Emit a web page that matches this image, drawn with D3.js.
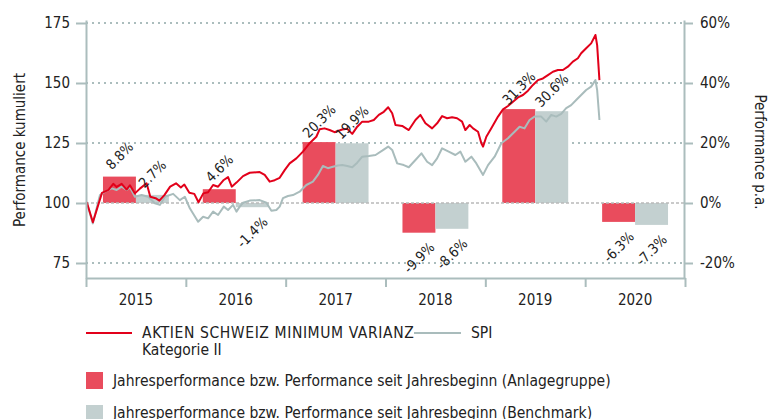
<!DOCTYPE html>
<html><head><meta charset="utf-8">
<script src="https://cdn.jsdelivr.net/npm/d3@7"></script>
<style>
body{margin:0;background:#fff;}
svg{display:block;font-family:"DejaVu Sans Condensed","DejaVu Sans",sans-serif;}
</style></head>
<body><svg id="c" width="776" height="419"></svg>
<script>
// Years and annual performance (%)
const years = ["2015","2016","2017","2018","2019","2020"];
const fundPerf = [8.8, 4.6, 20.3, -9.9, 31.3, -6.3];
const benchPerf = [2.7, -1.4, 19.9, -8.6, 30.6, -7.3];
const leftTicks = [75,100,125,150,175];
const rightTicks = [-20,0,20,40,60];

// Cumulative performance lines: time in years since start of 2015
const redT = [0.007,0.069,0.16,0.225,0.273,0.307,0.357,0.407,0.44,0.49,0.54,0.607,0.644,0.697,0.735,0.785,0.843,0.902,0.95,0.985,1.035,1.085,1.127,1.175,1.223,1.273,1.323,1.38,1.423,1.46,1.507,1.573,1.64,1.74,1.79,1.84,1.89,1.94,1.99,2.04,2.107,2.173,2.24,2.307,2.34,2.39,2.44,2.49,2.523,2.567,2.617,2.667,2.717,2.767,2.833,2.883,2.933,2.983,3.027,3.067,3.10,3.167,3.233,3.30,3.35,3.40,3.467,3.517,3.567,3.617,3.667,3.717,3.767,3.80,3.843,3.877,3.927,3.96,3.977,4.01,4.06,4.127,4.177,4.227,4.277,4.327,4.377,4.427,4.477,4.527,4.577,4.627,4.677,4.727,4.777,4.827,4.877,4.927,4.96,5.01,5.06,5.103,5.12,5.143];
const redV = [100.4,92.0,104.2,105.5,108.0,106.7,108.0,105.6,107.4,104.0,106.0,108.2,102.6,102.0,101.0,103.3,106.8,108.2,106.5,107.7,104.3,103.8,100.3,104.0,104.5,107.5,106.8,109.6,110.8,106.8,108.5,111.2,112.6,112.9,111.7,108.9,109.5,110.5,113.7,116.5,118.6,121.4,124.9,127.6,130.7,131.1,130.4,129.5,130.0,130.6,130.9,128.8,131.8,133.9,133.9,134.6,136.7,138.0,139.9,137.4,132.5,132.1,130.4,134.6,136.7,133.2,131.1,133.2,136.2,135.3,135.7,135.3,133.9,130.4,132.5,131.1,129.7,124.9,123.5,127.6,131.1,136.0,139.0,140.4,142.2,144.0,145.0,146.8,149.2,151.2,151.9,153.3,154.7,155.4,155.4,156.8,158.9,160.3,162.4,164.5,166.5,170.0,165.8,151.2];
const grayT = [0.007,0.068,0.14,0.19,0.257,0.307,0.357,0.407,0.44,0.49,0.557,0.623,0.69,0.74,0.79,0.873,0.94,0.99,1.04,1.123,1.173,1.223,1.273,1.323,1.38,1.423,1.473,1.507,1.54,1.573,1.64,1.74,1.807,1.857,1.907,1.94,1.973,2.023,2.073,2.14,2.207,2.273,2.323,2.373,2.423,2.473,2.523,2.567,2.617,2.667,2.717,2.767,2.833,2.90,2.967,3.027,3.067,3.117,3.183,3.233,3.30,3.36,3.417,3.467,3.517,3.567,3.633,3.70,3.75,3.80,3.86,3.91,3.977,4.027,4.093,4.16,4.227,4.293,4.343,4.393,4.443,4.493,4.56,4.61,4.66,4.71,4.76,4.81,4.86,4.91,4.96,5.01,5.06,5.103,5.12,5.143];
const grayV = [100.3,91.5,103.3,104.7,106.1,105.4,106.8,105.4,106.5,102.6,103.3,102.6,99.9,99.2,102.6,103.8,101.2,102.6,97.8,92.2,94.3,93.6,96.4,95.0,98.5,97.1,99.2,96.4,98.5,100.1,101.0,101.2,100.1,96.8,97.1,98.5,102.0,102.9,103.3,104.7,107.5,108.9,111.7,115.4,114.5,115.1,115.6,115.8,115.4,114.9,116.8,119.3,119.6,120.0,121.8,123.5,122.1,116.5,115.8,114.9,117.9,120.7,117.2,115.8,118.6,122.8,121.4,120.0,121.4,117.2,119.3,116.5,111.7,115.8,119.3,124.9,127.0,129.7,131.8,131.1,134.6,136.0,136.0,133.9,136.7,136.0,137.1,139.5,140.8,142.9,145.0,147.1,148.5,151.2,147.1,134.6];

const C = {axis:"#abbdbd", redLine:"#e2001a", grayLine:"#a9bcbc", redBar:"#e94c5d", grayBar:"#c3d0d0", text:"#222"};

const svg = d3.select("#c");
const x = d3.scaleLinear().domain([0,6]).range([86,685]);
const yL = d3.scaleLinear().domain([68.75,176.25]).range([278,20]);
const yR = d3.scaleLinear().domain([-25,61]).range([278,20]);
const xb = d3.scaleBand().domain(years).range([86,685]);
const xs = d3.scaleBand().domain(["f","b"]).range([0,xb.bandwidth()]).paddingOuter(0.515);

// gridlines
svg.append("g").selectAll("line").data(leftTicks.filter(d=>d!==100)).join("line")
  .attr("x1",86).attr("x2",684).attr("y1",d=>yL(d)).attr("y2",d=>yL(d))
  .attr("stroke",C.axis).attr("stroke-width",2).attr("stroke-dasharray","2,4");

// bars
const bars = svg.append("g");
years.forEach((yr,i)=>{
  [["f",fundPerf[i],C.redBar],["b",benchPerf[i],C.grayBar]].forEach(([k,v,col])=>{
    bars.append("rect").attr("x",xb(yr)+xs(k)).attr("width",xs.bandwidth())
      .attr("y",yR(Math.max(0,v))).attr("height",Math.abs(yR(v)-yR(0))).attr("fill",col);
  });
});
// zero line
svg.append("line").attr("x1",86).attr("x2",684).attr("y1",yR(0)).attr("y2",yR(0))
  .attr("stroke","#b9b9b9").attr("stroke-width",1.5).attr("stroke-dasharray","3,2");

// lines
const line = d3.line().x(d=>x(d[0])).y(d=>yL(d[1]));
svg.append("path").datum(grayT.map((t,i)=>[t,grayV[i]])).attr("d",line)
  .attr("fill","none").attr("stroke",C.grayLine).attr("stroke-width",2).attr("stroke-linejoin","round");
svg.append("path").datum(redT.map((t,i)=>[t,redV[i]])).attr("d",line)
  .attr("fill","none").attr("stroke",C.redLine).attr("stroke-width",2).attr("stroke-linejoin","round");

// bar labels
const lab = svg.append("g").attr("font-size",14).attr("fill",C.text);
years.forEach((yr,i)=>{
  [["f",fundPerf[i]],["b",benchPerf[i]]].forEach(([k,v])=>{
    const cx = xb(yr)+xs(k)+xs.bandwidth()/2;
    const cy = v>=0 ? yR(v)-21 : yR(v)+25;
    lab.append("text").attr("transform",`translate(${cx},${cy}) rotate(-45)`)
      .attr("text-anchor","middle").attr("dominant-baseline","central")
      .text(v.toFixed(1)+"%");
  });
});

// axes
function styleAxis(g){
  g.select(".domain").attr("stroke",C.axis).attr("stroke-width",2);
  g.selectAll(".tick line").attr("stroke",C.axis).attr("stroke-width",2);
  g.selectAll("text").attr("fill",C.text).attr("font-size",15).attr("font-family",null);
  g.attr("font-family",null);
}
svg.append("g").attr("transform","translate(86,0)")
  .call(d3.axisLeft(yL).tickValues(leftTicks).tickSize(10).tickSizeOuter(0).tickPadding(6))
  .call(styleAxis);
svg.append("g").attr("transform","translate(684,0)")
  .call(d3.axisRight(yR).tickValues(rightTicks).tickSize(9).tickSizeOuter(0).tickPadding(7).tickFormat(d=>d+"%"))
  .call(styleAxis);
svg.append("g").attr("transform","translate(0,278)")
  .call(d3.axisBottom(x).tickValues(d3.range(0,7)).tickSize(9).tickSizeOuter(0).tickFormat(""))
  .call(styleAxis);
svg.append("g").selectAll("text").data(years).join("text")
  .attr("x",d=>xb(d)+xb.bandwidth()/2).attr("y",305).attr("text-anchor","middle")
  .attr("font-size",15).attr("fill",C.text).text(d=>d);

// axis titles
svg.append("text").attr("transform","translate(25,150) rotate(-90)").attr("text-anchor","middle")
  .attr("font-size",15).attr("fill",C.text).text("Performance kumuliert");
svg.append("text").attr("transform","translate(755,152) rotate(90)").attr("text-anchor","middle")
  .attr("font-size",15).attr("fill",C.text).text("Performance p.a.");

// legend
const lg = svg.append("g").attr("font-size",15.5).attr("fill",C.text);
lg.append("line").attr("x1",86).attr("x2",132).attr("y1",333).attr("y2",333).attr("stroke",C.redLine).attr("stroke-width",2);
lg.append("text").attr("x",142).attr("y",338).attr("letter-spacing",0.6).text("AKTIEN SCHWEIZ MINIMUM VARIANZ");
lg.append("text").attr("x",142).attr("y",355).text("Kategorie II");
lg.append("line").attr("x1",414).attr("x2",461).attr("y1",333).attr("y2",333).attr("stroke",C.grayLine).attr("stroke-width",2);
lg.append("text").attr("x",471).attr("y",338).text("SPI");
lg.append("rect").attr("x",86).attr("y",372).attr("width",17).attr("height",17).attr("fill",C.redBar);
lg.append("text").attr("x",113).attr("y",386).text("Jahresperformance bzw. Performance seit Jahresbeginn (Anlagegruppe)");
lg.append("rect").attr("x",86).attr("y",405).attr("width",17).attr("height",17).attr("fill",C.grayBar);
lg.append("text").attr("x",113).attr("y",418).text("Jahresperformance bzw. Performance seit Jahresbeginn (Benchmark)");
</script></body></html>
